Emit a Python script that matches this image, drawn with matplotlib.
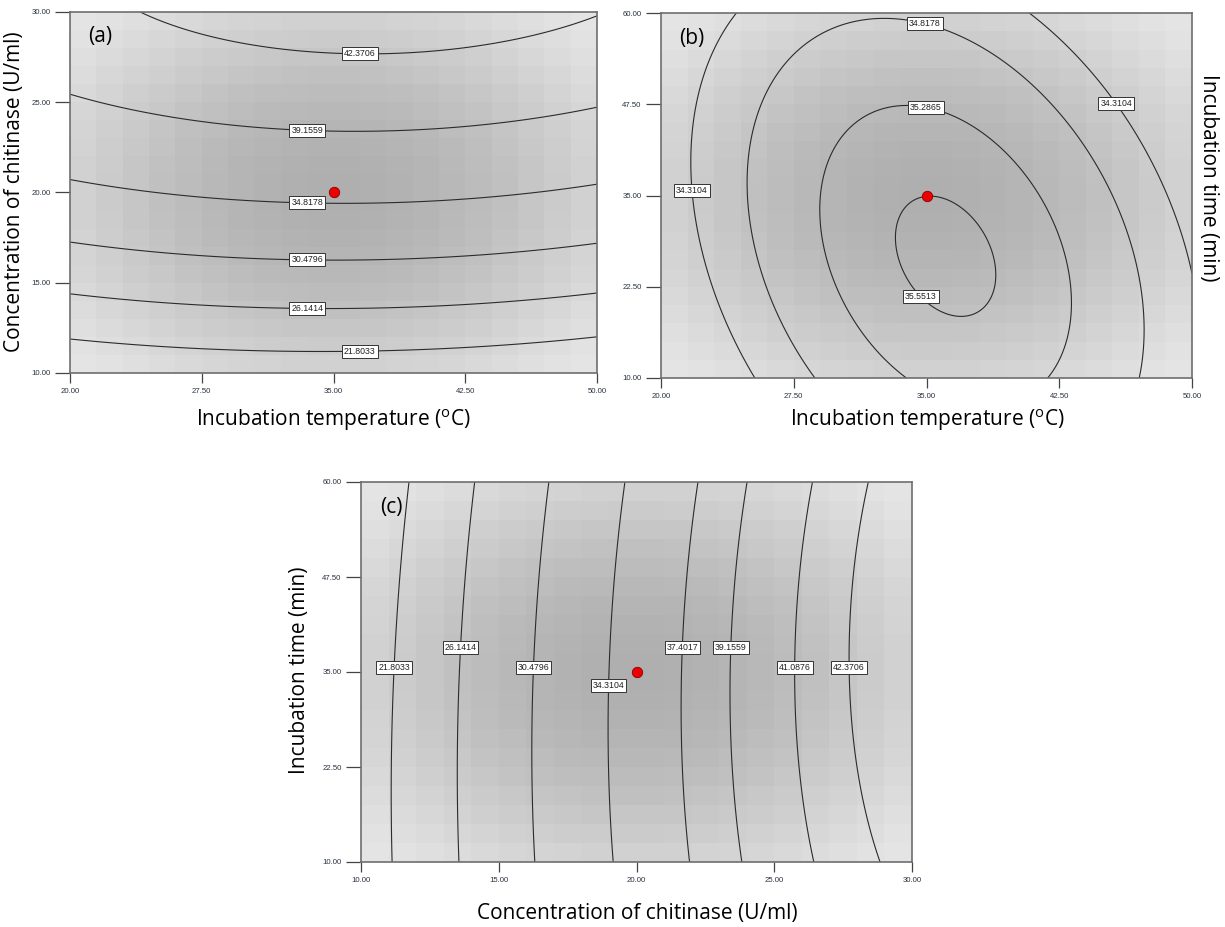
import numpy as np
import matplotlib.pyplot as plt

# ranges of the three factors
temp_range = [20.0, 50.0]
conc_range = [10.0, 30.0]
time_range = [10.0, 60.0]

temp_ticks = [20.0, 27.5, 35.0, 42.5, 50.0]
conc_ticks = [10.0, 15.0, 20.0, 25.0, 30.0]
time_ticks = [10.0, 22.5, 35.0, 47.5, 60.0]

# quadratic response models in coded units (-1..1), estimated from the contours
# order: b0, bx, by, bxy, bxx, byy
coef_a = [35.55, 0.13, 12.0, 0.30, -1.42, -4.10]     # x = temperature, y = chitinase
coef_b = [35.55, 0.04, -0.30, -0.55, -1.55, -0.51]   # x = temperature, y = time
coef_c = [35.55, 12.0, -0.24, 0.40, -4.10, -0.47]    # x = chitinase, y = time

levels_a = [21.8033, 26.1414, 30.4796, 34.8178, 39.1559, 42.3706]
levels_b = [34.3104, 34.8178, 35.2865, 35.5513]
levels_c = [21.8033, 26.1414, 30.4796, 34.3104, 37.4017, 39.1559, 41.0876, 42.3706]

# design centre point
center_a = (35.0, 20.0)
center_b = (35.0, 35.0)
center_c = (20.0, 35.0)

plt.rcParams['font.family'] = ['Open Sans', 'DejaVu Sans']
plt.rcParams['mathtext.fontset'] = 'custom'
plt.rcParams['mathtext.rm'] = 'Open Sans'

W, H = 1225, 927
LABEL_SIZE = 15
TICK_FONT = 'Liberation Sans'
TICK_COLOR = '#2a3140'


def coded(v, rng):
    mid = (rng[0] + rng[1]) / 2
    half = (rng[1] - rng[0]) / 2
    return (v - mid) / half


def response(c, X, Y):
    return c[0] + c[1] * X + c[2] * Y + c[3] * X * Y + c[4] * X ** 2 + c[5] * Y ** 2


def box(left, top, right, bottom):
    # pixel box -> figure fraction
    return [left / W, 1 - bottom / H, (right - left) / W, (bottom - top) / H]


def draw_panel(ax, coef, xr, yr, levels, label_pos, center, xticks, yticks, tag):
    # grey background, darker towards the design centre (blocky like Design-Expert)
    nb = 20
    xe = np.linspace(xr[0], xr[1], nb + 1)
    ye = np.linspace(yr[0], yr[1], nb + 1)
    xc = (xe[:-1] + xe[1:]) / 2
    yc = (ye[:-1] + ye[1:]) / 2
    BX, BY = np.meshgrid(coded(xc, xr), coded(yc, yr))
    r2 = np.clip(BX ** 2 + BY ** 2, 0, 2)
    shade = (229 - 54 * (1 - r2 / 2) ** 1.6) / 255.0
    ax.pcolormesh(xe, ye, shade, cmap='gray', vmin=0, vmax=1, shading='flat')

    # contour lines
    xs = np.linspace(xr[0], xr[1], 300)
    ys = np.linspace(yr[0], yr[1], 300)
    GX, GY = np.meshgrid(xs, ys)
    Z = response(coef, coded(GX, xr), coded(GY, yr))
    cs = ax.contour(GX, GY, Z, levels=sorted(set(levels)), colors='#2b2b2b', linewidths=0.8)
    labels = ax.clabel(cs, manual=label_pos, inline=False, fmt='%.4f',
                       fontsize=6.3, colors='#222222')
    for t in labels:
        t.set_rotation(0)
        t.set_fontfamily(TICK_FONT)
        t.set_bbox(dict(boxstyle='square,pad=0.22', fc='white', ec='#333333', lw=0.7))

    ax.plot(center[0], center[1], 'o', ms=7.5, mfc='#ee0000', mec='#880000', mew=0.6, zorder=5)

    ax.set_xlim(xr)
    ax.set_ylim(yr)
    ax.set_xticks(xticks)
    ax.set_yticks(yticks)
    ax.set_xticklabels(['%.2f' % v for v in xticks], fontsize=5.6, family=TICK_FONT, color=TICK_COLOR)
    ax.set_yticklabels(['%.2f' % v for v in yticks], fontsize=5.6, family=TICK_FONT, color=TICK_COLOR)
    ax.tick_params(axis='x', length=7.5, width=0.9, color='#444444', pad=3)
    ax.tick_params(axis='y', length=11, width=0.9, color='#444444', pad=3)
    for s in ax.spines.values():
        s.set_color('#6e6e6e')
        s.set_linewidth(1.2)
    ax.text(0.035, 0.96, tag, transform=ax.transAxes, fontsize=15, va='top', ha='left')


fig = plt.figure(figsize=(W / 100, H / 100), dpi=100)
ax_a = fig.add_axes(box(70, 12, 597, 373))
ax_b = fig.add_axes(box(661, 13, 1192, 378))
ax_c = fig.add_axes(box(361, 482, 912, 862))

draw_panel(ax_a, coef_a, temp_range, conc_range, levels_a,
           [(36.5, 27.7), (33.5, 23.5), (33.5, 19.5), (33.5, 16.3), (33.5, 13.7), (36.5, 11.3)],
           center_a, temp_ticks, conc_ticks, '(a)')
draw_panel(ax_b, coef_b, temp_range, time_range, levels_b,
           [(35.0, 59.4), (35.0, 47.5), (46.1, 48.2), (21.4, 35.6), (35.5, 23.1)],
           center_b, temp_ticks, time_ticks, '(b)')
draw_panel(ax_c, coef_c, conc_range, time_range, levels_c,
           [(11.3, 35.6), (13.7, 38.2), (16.3, 35.6), (19.0, 33.2), (21.7, 38.2),
            (23.4, 38.2), (25.7, 35.6), (27.7, 35.6)],
           center_c, conc_ticks, time_ticks, '(c)')

# axis titles
temp_lbl = 'Incubation temperature ($^{\\mathrm{o}}$C)'
fig.text(333 / W, 1 - 420 / H, temp_lbl, fontsize=LABEL_SIZE, ha='center', va='center')
fig.text(927 / W, 1 - 420 / H, temp_lbl, fontsize=LABEL_SIZE, ha='center', va='center')
fig.text(15 / W, 1 - 192 / H, 'Concentration of chitinase (U/ml)', fontsize=LABEL_SIZE,
         ha='center', va='center', rotation=90)
fig.text(1209 / W, 1 - 178 / H, 'Incubation time (min)', fontsize=LABEL_SIZE,
         ha='center', va='center', rotation=-90)
fig.text(637 / W, 1 - 914 / H, 'Concentration of chitinase (U/ml)', fontsize=LABEL_SIZE,
         ha='center', va='center')
fig.text(299 / W, 1 - 670 / H, 'Incubation time (min)', fontsize=LABEL_SIZE,
         ha='center', va='center', rotation=90)

fig.savefig('out.png', dpi=100)
